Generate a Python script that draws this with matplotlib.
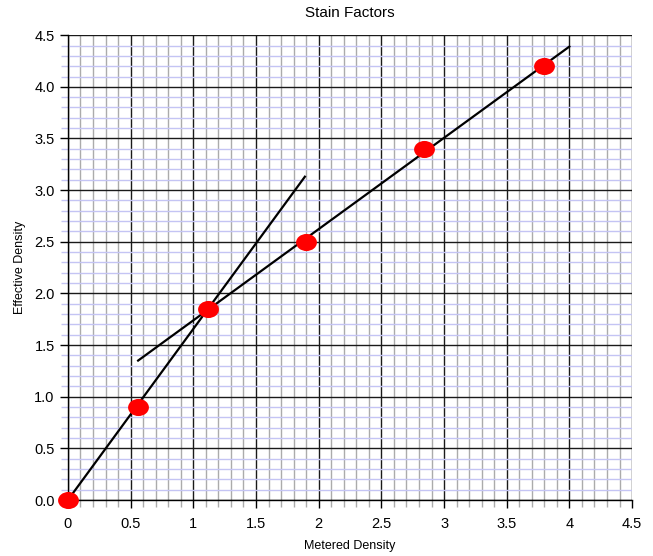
import matplotlib
matplotlib.use('Agg')
import matplotlib.pyplot as plt
from matplotlib.ticker import MultipleLocator
from matplotlib.path import Path

plt.rcParams['font.family'] = ['Liberation Sans', 'DejaVu Sans']

# Datos medidos
metered = [0.0, 0.56, 1.12, 1.9, 2.84, 3.8]
effective = [0.0, 0.9, 1.85, 2.5, 3.4, 4.2]

# Rectas de ajuste (extremos)
fit1_x = [0.0, 1.89]
fit1_y = [0.0, 3.13]
fit2_x = [0.56, 4.0]
fit2_y = [1.35, 4.39]

xticks = [0, 0.5, 1, 1.5, 2, 2.5, 3, 3.5, 4, 4.5]
xtick_labels = ['0', '0.5', '1', '1.5', '2', '2.5', '3', '3.5', '4', '4.5']
yticks = [0.0, 0.5, 1.0, 1.5, 2.0, 2.5, 3.0, 3.5, 4.0, 4.5]
ytick_labels = ['%.1f' % v for v in yticks]

# marcador ovalado (un poco mas ancho que alto)
circ = Path.unit_circle()
oval = Path(circ.vertices * [1.22, 1.0], circ.codes)

fig = plt.figure(figsize=(6.53, 5.56), dpi=100)
ax = fig.add_axes([0.104, 0.1007, 0.864, 0.836])

ax.set_xlim(0, 4.5)
ax.set_ylim(0, 4.5)

ax.set_xticks(xticks)
ax.set_xticklabels(xtick_labels)
ax.set_yticks(yticks)
ax.set_yticklabels(ytick_labels)
ax.xaxis.set_minor_locator(MultipleLocator(0.1))
ax.yaxis.set_minor_locator(MultipleLocator(0.1))

# Rejilla
ax.grid(which='minor', axis='x', color='#ababab', linewidth=1.0)
ax.grid(which='minor', axis='y', color='#c4c4f4', linewidth=1.0)
ax.grid(which='major', color='#1a1a1a', linewidth=1.0)
ax.set_axisbelow(True)

ax.tick_params(which='major', direction='out', length=6, width=1, labelsize=10.5, color='black')
ax.tick_params(which='minor', axis='x', direction='out', length=5, width=1.0, color='#ababab')
ax.tick_params(which='minor', axis='y', direction='out', length=5, width=1.0, color='#c4c4f4')
ax.tick_params(axis='x', pad=6)
for side in ['top', 'right']:
    ax.spines[side].set_visible(False)
for side in ['left', 'bottom']:
    ax.spines[side].set_linewidth(1.0)

ax.plot(fit1_x, fit1_y, color='black', linewidth=1.6, zorder=3)
ax.plot(fit2_x, fit2_y, color='black', linewidth=1.6, zorder=3)
ax.plot(metered, effective, linestyle='none', marker=oval, color='#ff0000', markersize=15,
        markeredgewidth=0, zorder=4, clip_on=False)

ax.set_title('Stain Factors', fontsize=11, pad=13)
ax.set_xlabel('Metered Density', fontsize=9, labelpad=7)
ax.set_ylabel('Effective Density', fontsize=9, labelpad=6)

plt.savefig('out.png', dpi=100)
